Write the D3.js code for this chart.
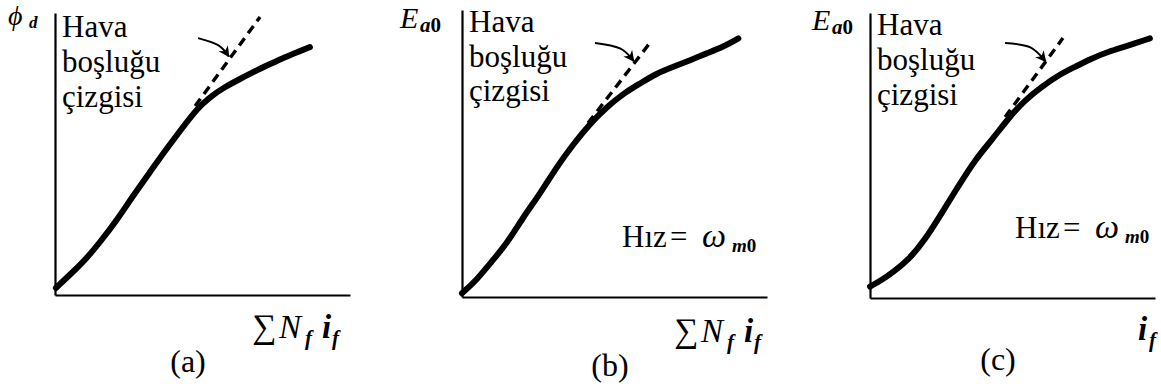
<!DOCTYPE html>
<html><head><meta charset="utf-8">
<script src="https://cdn.jsdelivr.net/npm/d3@7"></script>
<style>
body{margin:0;background:#fff}
svg{display:block}
</style>
</head><body>
<svg id="chart" width="1161" height="389"></svg>
<script>
// Magnetization curves in relative units (0–100 on both axes)
const panelTags = ["(a)", "(b)", "(c)"];
const noteLines = ["Hava", "boşluğu", "çizgisi"];

const curveA = [[0.3,2.5],[6.1,8.2],[10.8,13.1],[15.3,18.8],[21.0,26.6],[26.4,35.1],[32.2,43.6],[38.0,52.1],[43.4,59.6],[48.1,66.0],[52.5,70.2],[57.6,73.8],[62.7,76.6],[67.8,79.4],[72.9,81.9],[78.0,84.4],[83.1,86.5],[86.4,87.9]];
const curveB = [[0,1.3],[4.8,5.9],[9.2,11.7],[14.7,18.6],[20.1,27.9],[25.6,36.0],[31.1,45.4],[36.6,53.4],[42.0,60.4],[47.5,66.2],[52.9,70.9],[58.4,74.4],[63.8,77.9],[69.3,80.2],[74.8,82.5],[80.2,84.9],[85.7,87.2],[90.6,90.1]];
const curveC = [[0,4.0],[4.1,6.3],[7.6,8.7],[13.5,13.3],[19.3,20.4],[25.1,29.7],[30.9,39.1],[36.8,48.4],[42.7,55.4],[48.5,63.0],[54.4,69.5],[60.2,74.1],[66.1,78.2],[71.9,81.1],[77.8,84.1],[83.6,86.4],[89.5,88.2],[98.2,91.1]];

// Air-gap lines (tangent to the linear part)
const airGapA = [[47.5,67.0],[69.5,98.6]];
const airGapB = [[41.3,60.6],[62.3,89.5]];
const airGapC = [[47.4,63.5],[67.7,91.2]];

// Pointer arrows toward the air-gap lines
const arrowA = [[48.5,91.1],[55.3,88.6],[58.9,84.6]];
const arrowB = [[43.6,88.5],[51.8,86.6],[56.3,82.2]];
const arrowC = [[47.4,89.5],[56.1,88.0],[61.6,83.0]];

const serif = "'Liberation Serif', 'Times New Roman', Times, serif";

const panels = [
  {tag: panelTags[0], curve: curveA, gap: airGapA, arrow: arrowA,
   x0: 55, x1: 350, y0: 295, y1: 13, noteX: 62, noteY: [37, 72, 107],
   yLab: {x: 8, y: 25, main: "ϕ", sub: "d"}, speed: null,
   xLab: {x: 252, y: 338, kind: "sum"}, tagPos: [188, 372]},
  {tag: panelTags[1], curve: curveB, gap: airGapB, arrow: arrowB,
   x0: 462, x1: 767, y0: 297, y1: 10, noteX: 469, noteY: [32, 67, 101],
   yLab: {x: 400, y: 28, main: "E", sub: "a0"}, speed: {x: 622, y: 247},
   xLab: {x: 674, y: 342, kind: "sum"}, tagPos: [610, 376]},
  {tag: panelTags[2], curve: curveC, gap: airGapC, arrow: arrowC,
   x0: 870, x1: 1155, y0: 298, y1: 13, noteX: 877, noteY: [35, 70, 105],
   yLab: {x: 812, y: 30, main: "E", sub: "a0"}, speed: {x: 1015, y: 238},
   xLab: {x: 1138, y: 340, kind: "i"}, tagPos: [998, 370]}
];

const svg = d3.select("#chart");

svg.append("defs").append("marker")
  .attr("id", "tip")
  .attr("viewBox", "0 0 10 10")
  .attr("refX", 9).attr("refY", 5)
  .attr("markerWidth", 5.5).attr("markerHeight", 5.5)
  .attr("markerUnits", "strokeWidth")
  .attr("orient", "auto")
  .append("path").attr("d", "M0,0 L10,5 L0,10 L3,5 Z").attr("fill", "#000");

function txt(parent, x, y, size) {
  return parent.append("text").attr("x", x).attr("y", y)
    .attr("font-family", serif).attr("font-size", size).attr("fill", "#000");
}

panels.forEach(p => {
  const g = svg.append("g");
  const x = d3.scaleLinear().domain([0, 100]).range([p.x0, p.x1]);
  const y = d3.scaleLinear().domain([0, 100]).range([p.y0, p.y1]);

  // axes (plain lines, no ticks)
  const xAxis = d3.axisBottom(x).tickValues([]).tickSizeOuter(0);
  const yAxis = d3.axisLeft(y).tickValues([]).tickSizeOuter(0);
  g.append("g").attr("transform", `translate(0,${p.y0})`).call(xAxis)
    .select(".domain").attr("stroke", "#000").attr("stroke-width", 2.2);
  g.append("g").attr("transform", `translate(${p.x0},0)`).call(yAxis)
    .select(".domain").attr("stroke", "#000").attr("stroke-width", 2.2);

  // air-gap line
  g.append("path").datum(p.gap)
    .attr("d", d3.line().x(d => x(d[0])).y(d => y(d[1])))
    .attr("fill", "none").attr("stroke", "#000")
    .attr("stroke-width", 3.4).attr("stroke-dasharray", "9,6");

  // magnetization curve
  g.append("path").datum(p.curve)
    .attr("d", d3.line().x(d => x(d[0])).y(d => y(d[1])).curve(d3.curveBasis))
    .attr("fill", "none").attr("stroke", "#000")
    .attr("stroke-width", 6).attr("stroke-linecap", "round");

  // pointer arrow
  g.append("path").datum(p.arrow)
    .attr("d", d3.line().x(d => x(d[0])).y(d => y(d[1])).curve(d3.curveNatural))
    .attr("fill", "none").attr("stroke", "#000").attr("stroke-width", 2)
    .attr("marker-end", "url(#tip)");

  // annotation text
  noteLines.forEach((t, i) => txt(g, p.noteX, p.noteY[i], 31).text(t));

  // y-axis label
  if (p.yLab.sub === "d") {
    const yl = txt(g, p.yLab.x, p.yLab.y, 28).attr("font-style", "italic");
    yl.append("tspan").text(p.yLab.main);
    yl.append("tspan").attr("x", p.yLab.x + 21).attr("dy", 3).attr("font-size", 17).attr("font-weight", "bold").text("d");
  } else {
    const yl = txt(g, p.yLab.x, p.yLab.y, 30).attr("font-style", "italic");
    yl.append("tspan").text(p.yLab.main);
    yl.append("tspan").attr("x", p.yLab.x + 20).attr("dy", 4).attr("font-size", 21).attr("font-weight", "bold").text("a");
    yl.append("tspan").attr("font-size", 21).attr("font-weight", "bold").attr("font-style", "normal").text("0");
  }

  // x-axis label
  const X = p.xLab.x;
  if (p.xLab.kind === "sum") {
    txt(g, X, p.xLab.y, 34).text("∑");
    txt(g, X + 27, p.xLab.y, 33).attr("font-style", "italic").text("N");
    txt(g, X + 53, p.xLab.y + 7, 21).attr("font-style", "italic").attr("font-weight", "bold").text("f");
    txt(g, X + 70, p.xLab.y, 33).attr("font-style", "italic").attr("font-weight", "bold").text("i");
    txt(g, X + 80, p.xLab.y + 7, 21).attr("font-style", "italic").attr("font-weight", "bold").text("f");
  } else {
    txt(g, X, p.xLab.y, 33).attr("font-style", "italic").attr("font-weight", "bold").text("i");
    txt(g, X + 11, p.xLab.y + 7, 21).attr("font-style", "italic").attr("font-weight", "bold").text("f");
  }

  // speed note
  if (p.speed) {
    const S = p.speed.x;
    txt(g, S, p.speed.y, 31).text("Hız");
    txt(g, S + 48, p.speed.y, 31).text("=");
    txt(g, S + 80, p.speed.y, 34).attr("font-style", "italic").text("ω");
    const sub = txt(g, S + 110, p.speed.y + 5, 19).attr("font-weight", "bold");
    sub.append("tspan").attr("font-style", "italic").text("m");
    sub.append("tspan").text("0");
  }

  // panel tag
  txt(g, p.tagPos[0], p.tagPos[1], 32).attr("text-anchor", "middle").text(p.tag);
});
</script>
</body></html>
